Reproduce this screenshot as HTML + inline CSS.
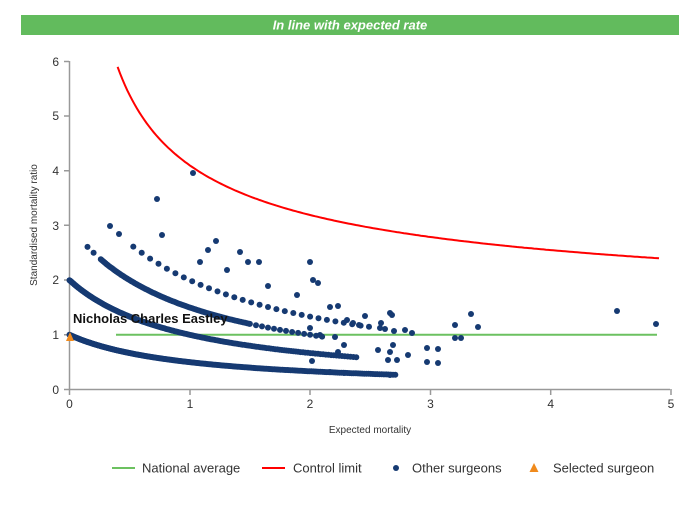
<!DOCTYPE html>
<html><head><meta charset="utf-8"><style>
body{margin:0;background:#fff;width:700px;height:500px;overflow:hidden;font-family:"Liberation Sans",sans-serif}
</style></head><body>
<svg id="s" width="700" height="500" xmlns="http://www.w3.org/2000/svg" font-family="Liberation Sans, sans-serif">
<rect x="21" y="15" width="658" height="20" fill="#62bb5d"/>
<text x="350" y="29.5" text-anchor="middle" fill="#fff" font-size="13" font-weight="bold" font-style="italic">In line with expected rate</text>
<g stroke="#999" stroke-width="1.5" fill="none">
<path d="M69.5 61V389.5H670"/>
<path d="M64 61.5H69M64 116H69M64 170.7H69M64 225.3H69M64 280H69M64 334.7H69M64 389.5H69"/>
<path d="M69.5 389V395M190 389V395M310 389V395M430.5 389V395M550.7 389V395M671 389V395"/>
</g>
<g font-size="12" fill="#333" text-anchor="end">
<text x="59" y="66">6</text><text x="59" y="120">5</text><text x="59" y="175">4</text><text x="59" y="230">3</text><text x="59" y="284">2</text><text x="59" y="339">1</text><text x="59" y="394">0</text>
</g>
<g font-size="12" fill="#333" text-anchor="middle">
<text x="69.5" y="408">0</text><text x="190" y="408">1</text><text x="310" y="408">2</text><text x="430.5" y="408">3</text><text x="550.7" y="408">4</text><text x="671" y="408">5</text>
</g>
<text x="370" y="433" font-size="10" fill="#333" text-anchor="middle">Expected mortality</text>
<text transform="translate(37,225) rotate(-90)" font-size="10" fill="#333" text-anchor="middle">Standardised mortality ratio</text>
<line x1="116" y1="334.7" x2="657" y2="334.7" stroke="#6cc160" stroke-width="2"/>
<path id="ctl" fill="none" stroke="#f00" stroke-width="2"/>
<g id="dots" fill="#163a72"></g>
<polygon points="70,332 66,341 74,341" fill="#f08a1c"/>
<text x="73" y="323" font-size="13" font-weight="bold" fill="#111">Nicholas Charles Eastley</text>
<line x1="112" y1="468" x2="135" y2="468" stroke="#6cc160" stroke-width="2"/>
<text x="142" y="472.5" font-size="13" fill="#333">National average</text>
<line x1="262" y1="468" x2="285" y2="468" stroke="#f00" stroke-width="2"/>
<text x="293" y="472.5" font-size="13" fill="#333">Control limit</text>
<circle cx="396" cy="468" r="3" fill="#163a72"/>
<text x="412" y="472.5" font-size="13" fill="#333">Other surgeons</text>
<polygon points="534,463 529.5,472 538.5,472" fill="#f08a1c"/>
<text x="553" y="472.5" font-size="13" fill="#333">Selected surgeon</text>
</svg>
<script>
var X=function(x){return 69.5+x*120.3},Y=function(y){return 389.5-y*54.67};
var d="";for(var x=0.4;x<=4.9;x+=0.02){var y=1+3.1/Math.sqrt(x);if(y>6)y=6;d+=(d?"L":"M")+X(x).toFixed(1)+" "+Y(y).toFixed(1);}
document.getElementById("ctl").setAttribute("d",d);
var g=document.getElementById("dots"),h="";
function c(px,py){h+='<circle cx="'+px.toFixed(1)+'" cy="'+py.toFixed(1)+'" r="3"/>';}
function curve(k,a,b,st,gr){for(var x=a;x<=b;x+=st*Math.pow(1+x,gr)){c(X(x),Y(k/(1+x)));}}
curve(1,0,2.72,0.004,1.2);
curve(2,0,2.4,0.005,1.3);
c(X(0.15),Y(3/1.15));c(X(0.2),Y(3/1.2));
curve(3,0.26,1.5,0.008,0.8);
curve(3,1.5,2.1,0.05,0);
curve(4,0.53,2.5,0.07,0);
[[110,226],[119,234],[157,199],[162,235],[193,173],[216,241],[240,252],[259,262],[310,262],[313,280],[318,283],[330,307],[338,306],[347,320],[353,323],[359,325],[381,323],[390,313],[405,330],[310,328],[320,335],[335,337],[338,352],[344,345],[378,350],[390,352],[408,355],[380,328],[385,329],[392,315],[394,331],[393,345],[388,360],[397,360],[390,375],[412,333],[427,348],[427,362],[438,349],[438,363],[455,325],[455,338],[461,338],[471,314],[478,327],[617,311],[656,324],[344,373],[330,372],[312,361],[365,316],[268,286],[297,295],[200,262],[208,250],[227,270],[248,262]].forEach(function(p){c(p[0],p[1]);});
g.innerHTML=h;
</script>
</body></html>
